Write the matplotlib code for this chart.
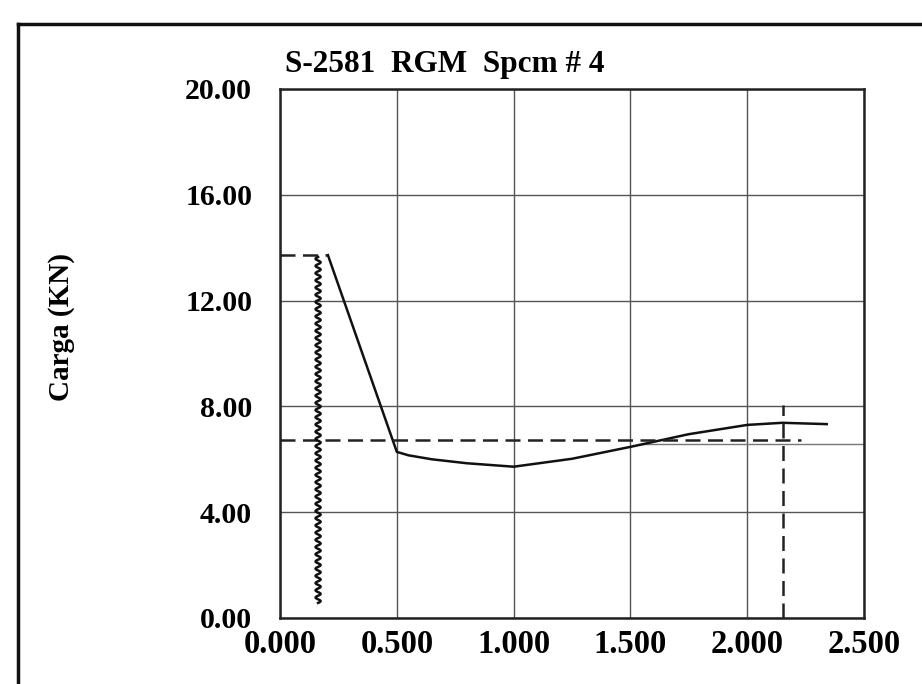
import numpy as np
import matplotlib
matplotlib.use('Agg')
import matplotlib.pyplot as plt
from matplotlib.lines import Line2D

matplotlib.rcParams.update({'font.family': 'Liberation Serif', 'font.size': 21,
                            'font.weight': 'bold'})

# ---- data ----
title = 'S-2581  RGM  Spcm # 4'
ylabel = 'Carga (KN)'
xticks = [0.0, 0.5, 1.0, 1.5, 2.0, 2.5]
xticklabels = ['0.000', '0.500', '1.000', '1.500', '2.000', '2.500']
yticks = [0, 4, 8, 12, 16, 20]
yticklabels = ['0.00', '4.00', '8.00', '12.00', '16.00', '20.00']

# load-displacement curve
curve_x = [0.205, 0.50, 0.55, 0.65, 0.80, 1.00, 1.25, 1.50, 1.75, 2.00, 2.15, 2.34]
curve_y = [13.72, 6.28, 6.15, 6.00, 5.85, 5.72, 6.02, 6.47, 6.95, 7.30, 7.38, 7.33]

# dashed reference lines
peak_x = [0.0, 0.20]
peak_y = [13.72, 13.72]
mean_x = [0.0, 2.23]
mean_y = [6.73, 6.73]
end_x = [2.153, 2.153]
end_y = [0.0, 8.05]

# wavy (spring) marker line: endpoints
spring_x = [0.163, 0.163]
spring_y = [0.57, 13.65]

# short extra rule seen on the right side of the grid
extra_x = [1.55, 2.5]
extra_y = [6.58, 6.58]

fig = plt.figure(figsize=(9.22, 6.84), dpi=100)
ax = fig.add_axes([0.3037, 0.0965, 0.6335, 0.7734])

ax.set_xlim(0, 2.5)
ax.set_ylim(0, 20)
ax.set_xticks(xticks)
ax.set_xticklabels(xticklabels, fontsize=23.5)
ax.set_yticks(yticks)
ax.set_yticklabels(yticklabels, fontsize=21.5)
ax.tick_params(length=0)
ax.tick_params(axis='x', pad=8)
ax.tick_params(axis='y', pad=20)
ax.grid(True, color='#555555', linewidth=1.0)
ax.set_axisbelow(True)
for sp in ax.spines.values():
    sp.set_linewidth(1.8)
    sp.set_color('#222222')

ax.plot(extra_x, extra_y, color='#777777', linewidth=1.0)
ax.plot(curve_x, curve_y, color='#111111', linewidth=1.8)
ax.plot(peak_x, peak_y, color='#222222', linewidth=1.8, dashes=(6, 3))
ax.plot(mean_x, mean_y, color='#222222', linewidth=1.8, dashes=(6, 3))
ax.plot(end_x, end_y, color='#222222', linewidth=1.8, dashes=(6, 3))

# draw the spring symbol as a wiggle along the segment (style only)
n_waves = 48
t = np.linspace(0, 1, n_waves * 12 + 1)
sy = spring_y[0] + (spring_y[1] - spring_y[0]) * t
sx = spring_x[0] + 0.011 * np.sin(2 * np.pi * n_waves * t)
ax.plot(sx, sy, color='#111111', linewidth=1.8)

ax.set_title(title, loc='left', fontsize=22.5, fontweight='bold', pad=12, x=0.008)
fig.text(0.067, 0.522, ylabel, rotation=90, ha='center', va='center', fontsize=21)

# outer frame of the scanned page
fig.add_artist(Line2D([0.0195, 1.0], [0.965, 0.965], transform=fig.transFigure,
                      color='#111111', linewidth=2.5))
fig.add_artist(Line2D([0.0195, 0.0195], [0.0, 0.965], transform=fig.transFigure,
                      color='#111111', linewidth=2.5))

fig.savefig('out.png', dpi=100)
